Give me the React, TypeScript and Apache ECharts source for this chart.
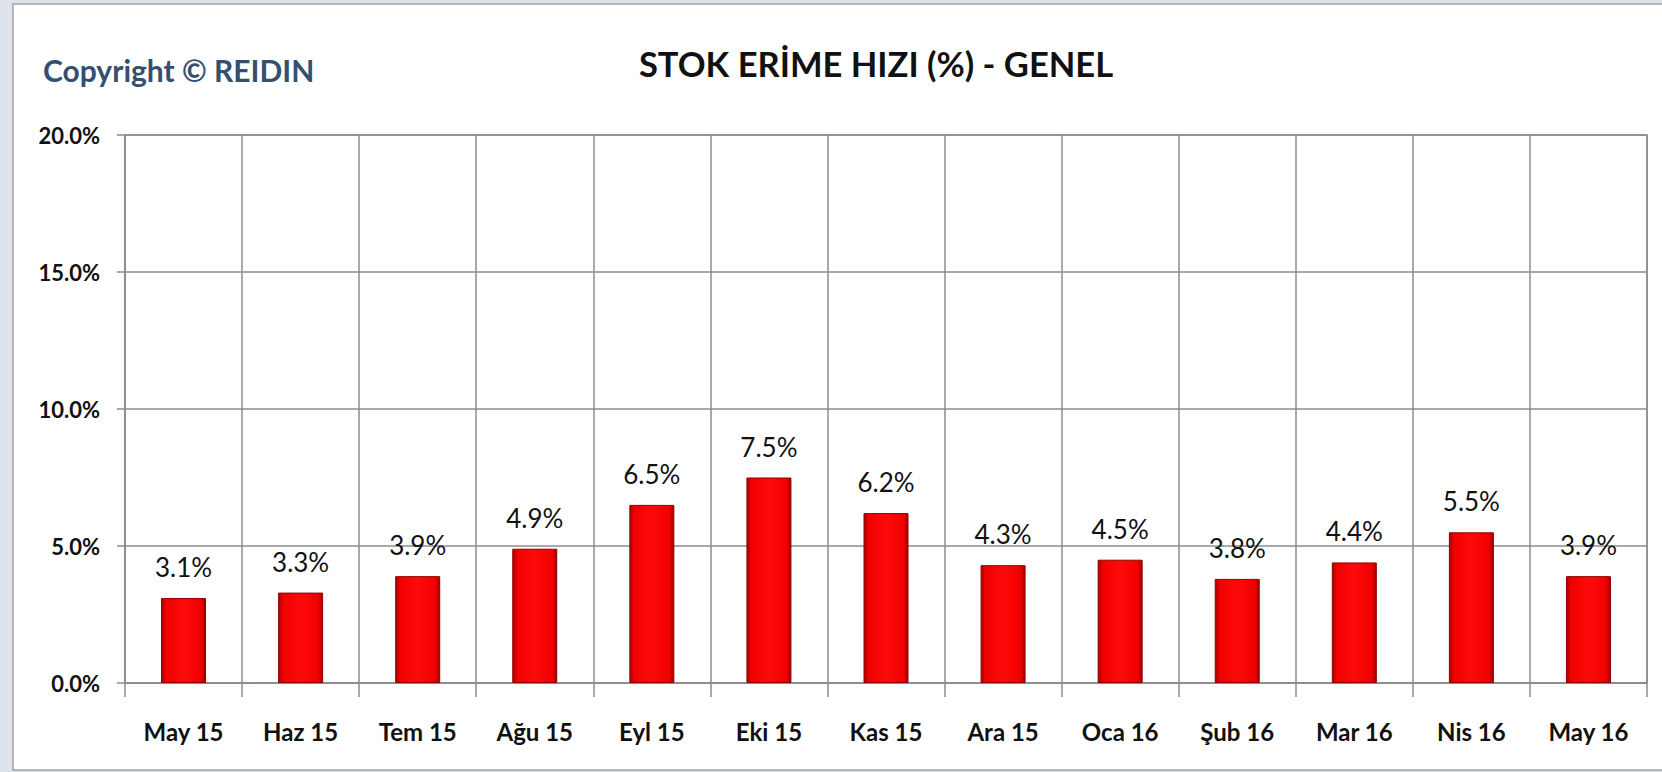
import React, { useEffect, useRef } from "react";
import * as echarts from "echarts";

const categories = ["May 15", "Haz 15", "Tem 15", "Ağu 15", "Eyl 15", "Eki 15", "Kas 15", "Ara 15", "Oca 16", "Şub 16", "Mar 16", "Nis 16", "May 16"];
const values = [3.1, 3.3, 3.9, 4.9, 6.5, 7.5, 6.2, 4.3, 4.5, 3.8, 4.4, 5.5, 3.9];
const yTicks = { min: 0, max: 20, interval: 5 };
const titleText = "STOK ERİME HIZI (%) - GENEL";
const copyrightText = "Copyright © REIDIN";

const FONT = "Lato, 'Open Sans', sans-serif";

export default function App() {
  const ref = useRef<HTMLDivElement>(null);
  useEffect(() => {
    if (!ref.current) return;
    const chart = echarts.init(ref.current, null, { renderer: "svg" });
    const gridColor = "#8c8c8c";
    chart.setOption({
      animation: false,
      backgroundColor: "#dde3ea",
      textStyle: { fontFamily: FONT },
      graphic: [
        {
          type: "rect",
          shape: { x: 13, y: 4, width: 1660, height: 766 },
          style: { fill: "#ffffff", stroke: "#a3a3a3", lineWidth: 1.5 },
          z: -10,
        },
        {
          type: "text",
          x: 43,
          y: 70,
          style: {
            text: copyrightText,
            fill: "#34506e",
            font: `bold 30px ${FONT}`,
            verticalAlign: "middle",
          },
        },
      ],
      title: {
        text: titleText,
        left: 871,
        top: 41,
        textAlign: "center",
        textStyle: { fontFamily: FONT, fontWeight: "bold", fontSize: 34.5, color: "#111" },
      },
      grid: {
        left: 125,
        right: 15,
        top: 135,
        bottom: 89,
        show: true,
        borderColor: gridColor,
        borderWidth: 1.5,
        backgroundColor: "transparent",
      },
      xAxis: {
        type: "category",
        data: categories,
        boundaryGap: true,
        axisLine: { show: true, lineStyle: { color: gridColor, width: 1.5 } },
        axisTick: { show: true, length: 14, interval: 0, lineStyle: { color: gridColor, width: 1.5 } },
        splitLine: { show: true, interval: 0, lineStyle: { color: gridColor, width: 1.5 } },
        axisLabel: {
          interval: 0,
          margin: 36,
          fontFamily: FONT,
          fontWeight: "bold",
          fontSize: 24,
          color: "#111",
        },
      },
      yAxis: {
        type: "value",
        min: yTicks.min,
        max: yTicks.max,
        interval: yTicks.interval,
        axisLine: { show: true, lineStyle: { color: gridColor, width: 1.5 } },
        axisTick: { show: true, length: 8, lineStyle: { color: gridColor, width: 1.5 } },
        splitLine: { show: true, lineStyle: { color: gridColor, width: 1.5 } },
        axisLabel: {
          margin: 25,
          fontFamily: FONT,
          fontWeight: "bold",
          fontSize: 22,
          color: "#111",
          formatter: (v: number) => v.toFixed(1) + "%",
        },
      },
      series: [
        {
          type: "bar",
          data: values,
          barWidth: 45,
          itemStyle: {
            color: new echarts.graphic.LinearGradient(0, 0, 1, 0, [
              { offset: 0, color: "#a80000" },
              { offset: 0.1, color: "#f00000" },
              { offset: 0.5, color: "#ff0a0a" },
              { offset: 0.9, color: "#f00000" },
              { offset: 1, color: "#a00000" },
            ]),
            borderColor: "#8e0000",
            borderWidth: 1,
          },
          label: {
            show: true,
            position: "top",
            distance: 18,
            fontFamily: FONT,
            fontWeight: "normal",
            fontSize: 26,
            color: "#111",
            formatter: (p: any) => Number(p.value).toFixed(1) + "%",
          },
        },
      ],
    });
    return () => chart.dispose();
  }, []);
  return (
    <div
      ref={ref}
      style={{ position: "fixed", left: 0, top: 0, width: 1662, height: 772 }}
    />
  );
}
